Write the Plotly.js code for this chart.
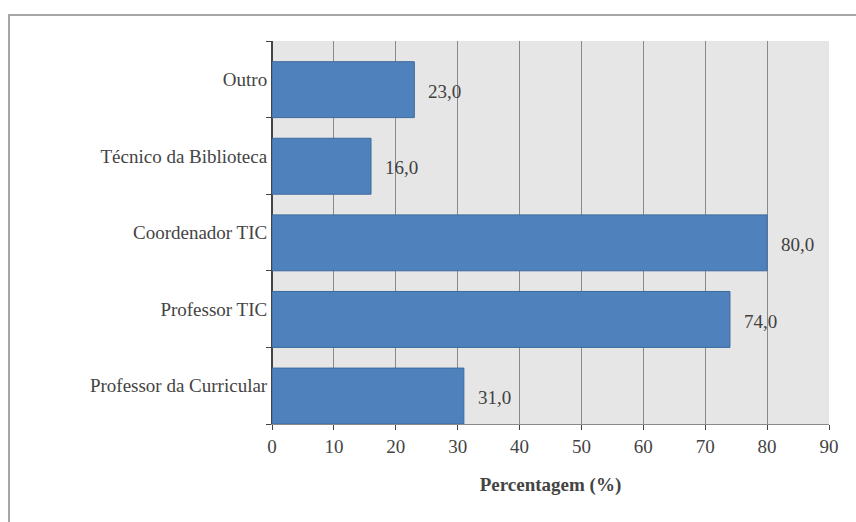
<!DOCTYPE html>
<html>
<head>
<meta charset="utf-8">
<script src="https://cdn.plot.ly/plotly-3.0.1.min.js"></script>
<style>
html,body{margin:0;padding:0;background:#fff;overflow:hidden;}
#wrap{position:relative;width:856px;height:522px;}
#chart{width:856px;height:522px;}
#frame{position:absolute;left:8px;top:14px;width:900px;height:600px;border:2px solid #a6a6a6;pointer-events:none;}
</style>
</head>
<body>
<div id="wrap">
<div id="chart"></div>
<div id="frame"></div>
</div>
<script>
const categories = ["Professor da Curricular", "Professor TIC", "Coordenador TIC", "Técnico da Biblioteca", "Outro"];
const values = [31.0, 74.0, 80.0, 16.0, 23.0];
const xTicks = [0, 10, 20, 30, 40, 50, 60, 70, 80, 90];
const xTitle = "Percentagem (%)";

const trace = {
  type: "bar", orientation: "h", x: values, y: categories, width: 0.73, offset: -0.5,
  marker: {color: "#4f81bd", line: {color: "#3d6a9e", width: 1}}, hoverinfo: "none"
};
const annotations = values.map((v, i) => ({
  x: v, y: categories[i], xref: "x", yref: "y",
  text: v.toFixed(1).replace(".", ","),
  showarrow: false, xanchor: "left", yanchor: "middle", xshift: 12, yshift: -12,
  font: {family: "Times New Roman", size: 19, color: "#404040"}
}));
const layout = {
  width: 856, height: 522,
  margin: {l: 272, r: 27, t: 41, b: 98},
  plot_bgcolor: "#e6e6e6", showlegend: false,
  xaxis: {range: [0, 90], tickvals: xTicks, showgrid: true, gridcolor: "#8a8a8a", showline: true, linecolor: "#8a8a8a", ticks: "outside",
    tickfont: {family: "Times New Roman", size: 19},
    title: {text: "<b>" + xTitle + "</b>", font: {family: "Times New Roman", size: 19}}},
  yaxis: {type: "category", categoryarray: categories, categoryorder: "array", range: [-0.5, 4.5], showline: true, ticks: "outside", tickson: "boundaries",
    tickfont: {family: "Times New Roman", size: 19}},
  annotations: annotations
};
Plotly.newPlot("chart", [trace], layout, {displayModeBar: false, staticPlot: true});
</script>
</body>
</html>
